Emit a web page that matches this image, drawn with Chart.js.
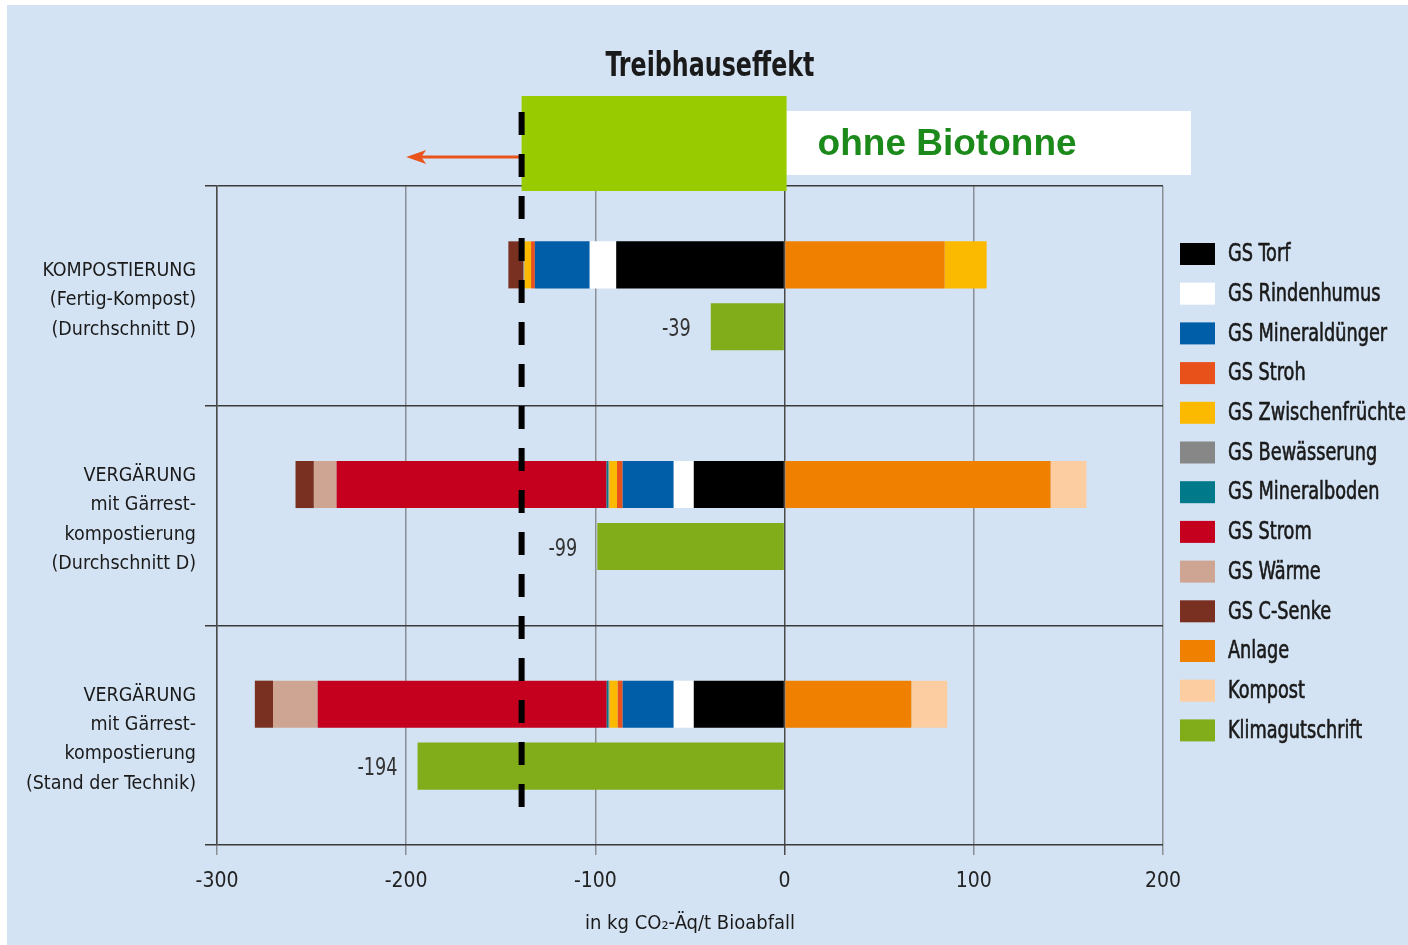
<!DOCTYPE html>
<html>
<head>
<meta charset="utf-8">
<script src="https://cdn.jsdelivr.net/npm/chart.js@4.4.1/dist/chart.umd.min.js"></script>
<style>
  html, body { margin: 0; padding: 0; background: #ffffff; }
  #wrap { width: 1408px; height: 945px; }
</style>
</head>
<body>
<div id="wrap"><canvas id="c" width="1408" height="945"></canvas></div>
<script>
// Categories (multi-line labels on the left axis)
const categories = [
  ['KOMPOSTIERUNG', '(Fertig-Kompost)', '(Durchschnitt D)'],
  ['VERGÄRUNG', 'mit Gärrest-', 'kompostierung', '(Durchschnitt D)'],
  ['VERGÄRUNG', 'mit Gärrest-', 'kompostierung', '(Stand der Technik)']
];

// Credits (Gutschriften, negative) and burdens (positive), kg CO2-Äq/t Bioabfall
const gsTorf             = [-89, -48, -48];
const gsRindenhumus      = [-14, -10.6, -10.6];
const gsMineralduenger   = [-29, -27, -27];
const gsStroh            = [-2, -3, -2.6];
const gsZwischenfruechte = [-3.5, -4, -4.3];
const gsBewaesserung     = [-0.5, -0.5, -0.5];
const gsMineralboden     = [0, -1, -1];
const gsStrom            = [0, -142.7, -152.8];
const gsWaerme           = [0, -12, -23.6];
const gsCSenke           = [-8, -9.7, -9.6];
const anlage             = [84.6, 140.6, 67];
const kompost            = [22.2, 18.9, 19];
const klimagutschrift    = [-39, -99, -194];

// Axis ticks and reference marks
const xTicks = [-300, -200, -100, 0, 100, 200];
const threshold = -139;
const arrowTarget = -200;

const titleText = 'Treibhauseffekt';
const bannerText = 'ohne Biotonne';
const axisTitle = 'in kg CO\u2082-Äq/t Bioabfall';

const FONT = "'DejaVu Sans Condensed', 'Liberation Sans Narrow', sans-serif";
const TEXT = '#1a1a1a';

function ds(label, data, color, stack, legendColor) {
  return {
    label, data, backgroundColor: color, stack: stack || 'gs',
    legendColor: legendColor || color, borderWidth: 0,
    categoryPercentage: 0.564, barPercentage: 0.76
  };
}

const datasets = [
  ds('GS Torf', gsTorf, '#000000'),
  ds('GS Rindenhumus', gsRindenhumus, '#ffffff'),
  ds('GS Mineraldünger', gsMineralduenger, '#005DA8'),
  ds('GS Stroh', gsStroh, '#E8511A'),
  ds('GS Zwischenfrüchte', gsZwischenfruechte, '#FBBA00'),
  ds('GS Bewässerung', gsBewaesserung, '#878787'),
  ds('GS Mineralboden', gsMineralboden, '#00798A'),
  ds('GS Strom', gsStrom, '#C5001F'),
  ds('GS Wärme', gsWaerme, '#CEA592'),
  ds('GS C-Senke', gsCSenke, '#7A3021'),
  ds('Anlage', anlage, '#F08000'),
  ds('Kompost', kompost, ['#FBBA00', '#FBCDA0', '#FBCDA0'], 'gs', '#FBCDA0'),
  ds('Klimagutschrift', klimagutschrift, '#82AD1A', 'klima')
];

// Text drawn with a horizontal squeeze to get a narrow typeface look
function narrowText(ctx, text, x, y, sx, align, heavy) {
  ctx.save();
  ctx.translate(x, y);
  ctx.scale(sx, 1);
  ctx.textAlign = align;
  ctx.fillText(text, 0, 0);
  if (heavy) {
    ctx.strokeStyle = ctx.fillStyle;
    ctx.lineWidth = heavy;
    ctx.strokeText(text, 0, 0);
  }
  ctx.restore();
}

const decor = {
  id: 'decor',
  beforeDraw(chart) {
    const { ctx, width, height } = chart;
    ctx.save();
    ctx.fillStyle = '#ffffff';
    ctx.fillRect(0, 0, width, height);
    ctx.fillStyle = '#D4E3F3';
    ctx.fillRect(7, 5, width - 7, height - 5);
    ctx.restore();
  },
  afterDraw(chart) {
    const { ctx } = chart;
    const xs = chart.scales.x;
    const ca = chart.chartArea;
    const xT = xs.getPixelForValue(threshold);
    const x0 = xs.getPixelForValue(0);
    const xA = xs.getPixelForValue(arrowTarget);
    ctx.save();
    ctx.textBaseline = 'middle';

    // Title
    ctx.fillStyle = TEXT;
    ctx.font = `bold 33px ${FONT}`;
    narrowText(ctx, titleText, 710, 67, 0.8, 'center');

    // Banner: white label box and green marker box
    ctx.fillStyle = '#ffffff';
    ctx.fillRect(x0, 111, ca.right + 28 - x0, 64);
    ctx.fillStyle = '#99CC00';
    ctx.fillRect(xT, 96, x0 + 2 - xT, 95);
    ctx.fillStyle = '#1B8A1B';
    ctx.font = "bold 37px 'Liberation Sans', Arial, sans-serif";
    ctx.textAlign = 'left';
    ctx.fillText(bannerText, x0 + 33, 145);

    // Arrow pointing left
    ctx.strokeStyle = '#E8541C';
    ctx.fillStyle = '#E8541C';
    ctx.lineWidth = 3;
    ctx.beginPath();
    ctx.moveTo(xT, 157);
    ctx.lineTo(xA + 12, 157);
    ctx.stroke();
    ctx.beginPath();
    ctx.moveTo(xA, 157);
    ctx.lineTo(xA + 20, 150);
    ctx.lineTo(xA + 15, 157);
    ctx.lineTo(xA + 20, 164);
    ctx.closePath();
    ctx.fill();

    // Dashed reference line
    ctx.strokeStyle = '#000000';
    ctx.lineWidth = 6;
    ctx.setLineDash([23, 19]);
    ctx.beginPath();
    ctx.moveTo(xT, 112);
    ctx.lineTo(xT, 815);
    ctx.stroke();
    ctx.setLineDash([]);

    // Net value labels beside the Klimagutschrift bars
    const kIdx = chart.data.datasets.findIndex(d => d.stack === 'klima');
    const meta = chart.getDatasetMeta(kIdx);
    ctx.font = `24px ${FONT}`;
    ctx.fillStyle = '#333333';
    meta.data.forEach((el, i) => {
      const v = chart.data.datasets[kIdx].data[i];
      narrowText(ctx, String(v), Math.min(el.x, el.base) - 20, el.y + 3, 0.82, 'right');
    });

    // Legend
    ctx.font = `24px ${FONT}`;
    chart.data.datasets.forEach((d, i) => {
      const cy = 254 + i * 39.7;
      ctx.fillStyle = d.legendColor;
      ctx.fillRect(1180, cy - 11, 35, 22);
      ctx.fillStyle = TEXT;
      narrowText(ctx, d.label, 1228, cy + 1, 0.82, 'left', 0.6);
    });

    ctx.restore();
  }
};

new Chart(document.getElementById('c'), {
  type: 'bar',
  data: { labels: categories, datasets },
  plugins: [decor],
  options: {
    indexAxis: 'y',
    responsive: false,
    animation: false,
    devicePixelRatio: 1,
    layout: { padding: { top: 186, right: 245, bottom: 0, left: 0 } },
    plugins: {
      legend: { display: false },
      title: { display: false },
      tooltip: { enabled: false }
    },
    scales: {
      x: {
        stacked: true,
        min: -300,
        max: 200,
        afterBuildTicks: (scale) => { scale.ticks = xTicks.map(v => ({ value: v })); },
        afterFit: (scale) => { scale.height = 100; },
        grid: {
          color: (c) => (c.tick && c.tick.value === 0 ? '#4a4a4a' : '#8a8f96'),
          lineWidth: 1.5,
          tickLength: 10
        },
        border: { display: false },
        ticks: { color: '#222222', font: { family: FONT, size: 21 }, padding: 14 },
        title: {
          display: true,
          text: axisTitle,
          color: TEXT,
          font: { family: FONT, size: 20 },
          padding: { top: 9, bottom: 9 }
        }
      },
      y: {
        stacked: true,
        afterFit: (scale) => { scale.width = 217; },
        grid: { color: '#3a3a3a', lineWidth: 1.5, tickLength: 12, offset: true },
        border: { display: true, color: '#4a4a4a', width: 1.5 },
        ticks: {
          color: TEXT,
          font: { family: FONT, size: 19.5, lineHeight: 1.51 },
          padding: 9,
          labelOffset: 4.5
        }
      }
    }
  }
});
</script>
</body>
</html>
